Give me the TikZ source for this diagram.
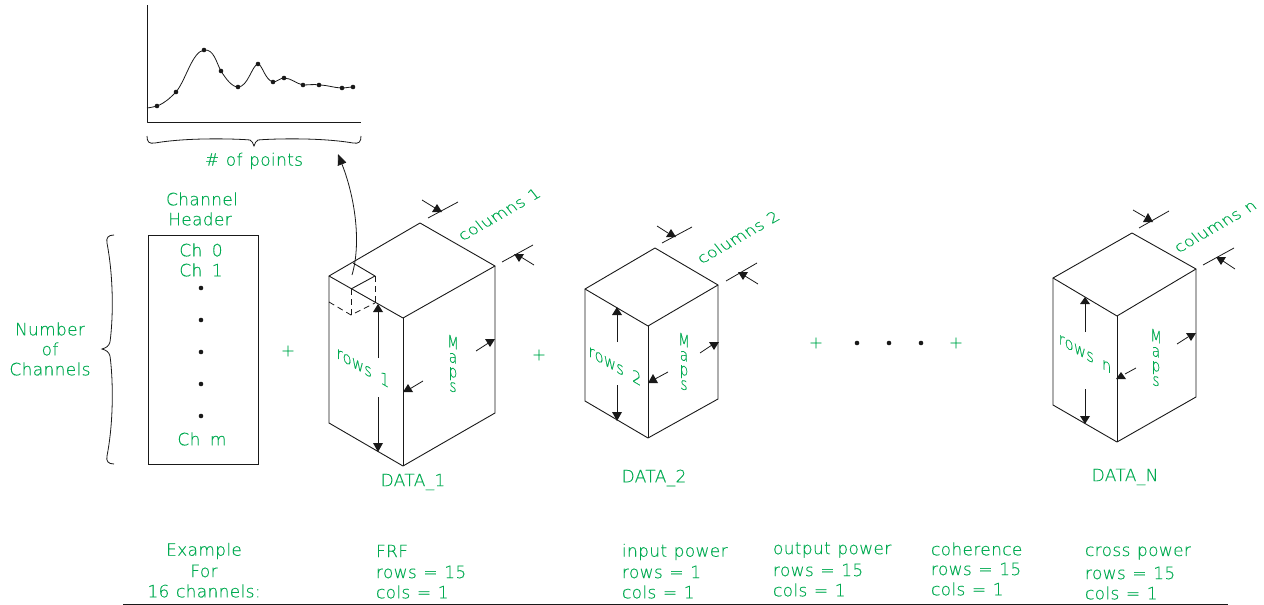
\documentclass[tikz,border=0pt]{standalone}
\usepackage{fontspec}
\usetikzlibrary{arrows.meta}
\setmainfont[WordSpace=1.15,LetterSpace=2,FakeBold=0.25]{DejaVu Sans ExtraLight}
\definecolor{grn}{RGB}{0,170,80}
\definecolor{ink}{RGB}{25,25,25}
\tikzset{
  lbl/.style={text=grn,font=\fontsize{17}{18}\selectfont,inner sep=0pt,outer sep=0pt},
  lline/.style={lbl,anchor=west},
  edge/.style={draw=ink,line width=0.9pt,line join=round},
  thin edge/.style={draw=ink,line width=0.8pt},
  dash edge/.style={draw=ink,line width=0.8pt,dash pattern=on 6pt off 4pt},
  headfill/.style={fill=ink,draw=none},
  pt/.style={circle,fill=ink,draw=none,minimum size=4.6pt,inner sep=0pt},
}
% up/down triangle: x, base y, apex y
\newcommand{\tri}[3]{\fill[headfill] (#1-5,#2) -- (#1+5,#2) -- (#1,#3) -- cycle;}
% skewed text: x y a b c d text
\newcommand{\iso}[7]{\begin{scope}[shift={(#1,#2)}]\node[lbl,transform shape,cm={#3,#4,#5,#6,(0,0)}] {#7};\end{scope}}
\newcommand{\colsT}[3]{\iso{#1}{#2}{.87}{.5}{-.55}{.7}{#3}}
\newcommand{\rowsT}[3]{\iso{#1}{#2}{.866}{-.5}{0}{1}{#3}}
\newcommand{\mapsT}[2]{\begin{scope}[shift={(#1,#2)}]\node[lbl,transform shape,cm={.8,-.25,0,1,(0,0)},align=center,font=\fontsize{17}{14.5}\selectfont] {M\\a\\p\\s};\end{scope}}
% box: top right front left bfront bleft bright
\newcommand{\isobox}[7]{\draw[edge] (#4) -- (#1) -- (#2) -- (#3) -- cycle;
  \draw[edge] (#4) -- (#6) -- (#5) -- (#7) -- (#2);
  \draw[edge] (#3) -- (#5);}
\begin{document}
\begin{tikzpicture}[x=1pt,y=-1pt]
\useasboundingbox (0,0) rectangle (1264,605);
% graph
\coordinate (ax0) at (147,5);\coordinate (ax1) at (147,122);\coordinate (ax2) at (361,122);
\draw[edge] (ax0) -- (ax1) -- (ax2);
\draw[thin edge] (147,108) .. controls (151,107.5) and (153,107) .. (157,106)
  .. controls (165,103) and (170,98) .. (176,92)
  .. controls (186,80) and (192,52) .. (204,50)
  .. controls (214,49) and (216,62) .. (221,71)
  .. controls (226,79) and (232,87) .. (238,87)
  .. controls (248,87) and (252,65) .. (258,64)
  .. controls (262,64) and (265,80) .. (273,82)
  .. controls (277,82) and (280,78) .. (284,78)
  .. controls (291,78) and (297,84) .. (303,85)
  .. controls (308,85) and (314,84) .. (319,85)
  .. controls (327,85) and (335,88) .. (342,88)
  .. controls (346,88) and (349,87) .. (353,87);
\foreach \p [count=\i] in {(157,106),(176,92),(204,50),(221,71),(238,87),(258,64),(273,82),(284,78),(303,85),(319,85),(342,88),(353,87)}
  \node[pt,minimum size=4.6pt] (g\i) at \p {};
% point brace
\draw[thin edge] (147,136) .. controls (147,142) and (149,144) .. (155,143)
  .. controls (190,137) and (240,139) .. (250,140) .. controls (252,141) and (253,143) .. (254,146)
  .. controls (255,143) and (256,141) .. (258,140) .. controls (268,139) and (318,137) .. (353,143)
  .. controls (359,144) and (361,142) .. (361,136);
\node[lbl] (points) at (254,161) {\# of points};
% header
\node[lbl] (chan) at (202,199) {Channel};
\node[lbl] (head) at (200,219) {Header};
\node[draw=ink,line width=0.9pt,minimum width=110pt,minimum height=229pt,inner sep=0pt] (hbox) at (203,349.5) {};
\node[lbl] (c0) at (201,250) {Ch\ \,0};
\node[lbl] (c1) at (201,270) {Ch\ \,1};
\node[lbl] (cm) at (202,439) {Ch\ \,m};
\foreach \yy [count=\i] in {288,320,352,384,416} \node[pt] (hd\i) at (201,\yy) {};
% left brace
\draw[thin edge] (114,235) .. controls (108,235) and (106,238) .. (107,243)
  .. controls (114,280) and (113,320) .. (110,342) .. controls (109,346) and (106,348) .. (102,349)
  .. controls (106,350) and (109,352) .. (110,356) .. controls (113,378) and (114,420) .. (107,456)
  .. controls (106,461) and (108,464) .. (114,464);
\node[lbl] (n1) at (50,329) {Number};
\node[lbl] (n2) at (50,349) {of};
\node[lbl] (n3) at (50,369) {Channels};
% pluses and dots
\node[lbl] (p1) at (288,351) {+};
\node[lbl] (p2) at (539,355) {+};
\node[lbl] (p3) at (816,343) {+};
\node[lbl] (p4) at (956,343) {+};
\foreach \xx [count=\i] in {857,889,921} \node[pt] (md\i) at (\xx,343) {};
% box 1
\isobox{420,223}{495,266}{403,318}{329,276}{403,466}{329,423}{495,413}
\draw[edge] (353,263) -- (375,276) -- (351,289);
\draw[dash edge] (351,289) -- (351,315);
\draw[dash edge] (375,276) -- (375,303);
\draw[dash edge] (329,302) -- (351,315) -- (375,303);
\coordinate (cubeTop) at (352,275);
\coordinate (plotEnd) at (338,154);
\draw[thin edge,-{Triangle[length=11pt,width=9pt]}] (cubeTop) .. controls (361,245) and (356,200) .. (plotEnd);
\draw[thin edge] (378,358) -- (378,310) (378,397) -- (378,445);
\tri{378}{312}{304}\tri{378}{443}{452}
\draw[thin edge] (423,381) -- (408,390);\tri{408}{392}{384}
\draw[thin edge] (476,351) -- (490,342);\tri{490}{339}{347}
\draw[thin edge] (428,218) -- (458,202) (422,200) -- (435,208);\tri{437}{212}{204}
\draw[thin edge] (502,262) -- (533,245) (534,265) -- (521,257);\tri{519}{254}{262}
\colsT{499}{214}{columns 1}
\rowsT{363}{367}{rows\ \,1}
\mapsT{453}{364}
\node[lbl] (d1) at (413,482) {DATA\_1};
% box 2
\isobox{655,248}{718,285}{648,326}{585,289}{648,438}{585,401}{718,399}
\draw[thin edge] (617,342) -- (617,313) (617,385) -- (617,414);
\tri{617}{315}{307}\tri{617}{412}{421}
\draw[thin edge] (668,372) -- (655,379);\tri{653}{383}{374}
\draw[thin edge] (700,353) -- (712,345);\tri{714}{342}{350}
\draw[thin edge] (662,243) -- (692,227) (657,226) -- (668,233);\tri{671}{237}{229}
\draw[thin edge] (726,281) -- (757,263) (758,284) -- (745,276);\tri{743}{272}{280}
\colsT{738}{237}{columns 2}
\rowsT{615}{365}{rows\ \,2}
\mapsT{684}{362}
\node[lbl] (d2) at (654,478) {DATA\_2};
% box n
\isobox{1132,233}{1196,269}{1117,316}{1053,278}{1117,442}{1053,405}{1196,397}
\draw[thin edge] (1085,332) -- (1085,302) (1085,389) -- (1085,418);
\tri{1085}{304}{297}\tri{1085}{416}{424}
\draw[thin edge] (1136,368) -- (1125,374);\tri{1121}{379}{372}
\draw[thin edge] (1177,344) -- (1188,337);\tri{1191}{333}{341}
\draw[thin edge] (1139,228) -- (1169,211) (1133,210) -- (1145,217);\tri{1148}{222}{213}
\draw[thin edge] (1203,265) -- (1234,248) (1235,269) -- (1223,261);\tri{1221}{257}{265}
\colsT{1215}{226}{columns n}
\rowsT{1085}{354}{rows\ \,n}
\mapsT{1156}{358}
\node[lbl] (dn) at (1125,477) {DATA\_N};
% bottom table
\node[lbl] (e1) at (204,551) {Example};
\node[lbl] (e2) at (204,571) {For};
\node[lbl] (e3) at (204,591) {16 channels:};
\node[lline] (a1) at (376,551) {FRF};
\node[lline] (a2) at (376,572) {rows = 15};
\node[lline] (a3) at (376,592) {cols = 1};
\node[lline] (b1) at (622,552) {input power};
\node[lline] (b2) at (622,572) {rows = 1};
\node[lline] (b3) at (622,592) {cols = 1};
\node[lline] (c1b) at (773,550) {output power};
\node[lline] (c2b) at (773,570) {rows = 15};
\node[lline] (c3b) at (773,590) {cols = 1};
\node[lline] (d1b) at (931,549) {coherence};
\node[lline] (d2b) at (931,569) {rows = 15};
\node[lline] (d3b) at (931,589) {cols = 1};
\node[lline] (e1b) at (1085,553) {cross power};
\node[lline] (e2b) at (1085,573) {rows = 15};
\node[lline] (e3b) at (1085,593) {cols = 1};
\coordinate (baseL) at (123,604);\coordinate (baseR) at (1228,604);
\draw[edge] (baseL) -- (baseR);
\end{tikzpicture}
\end{document}
